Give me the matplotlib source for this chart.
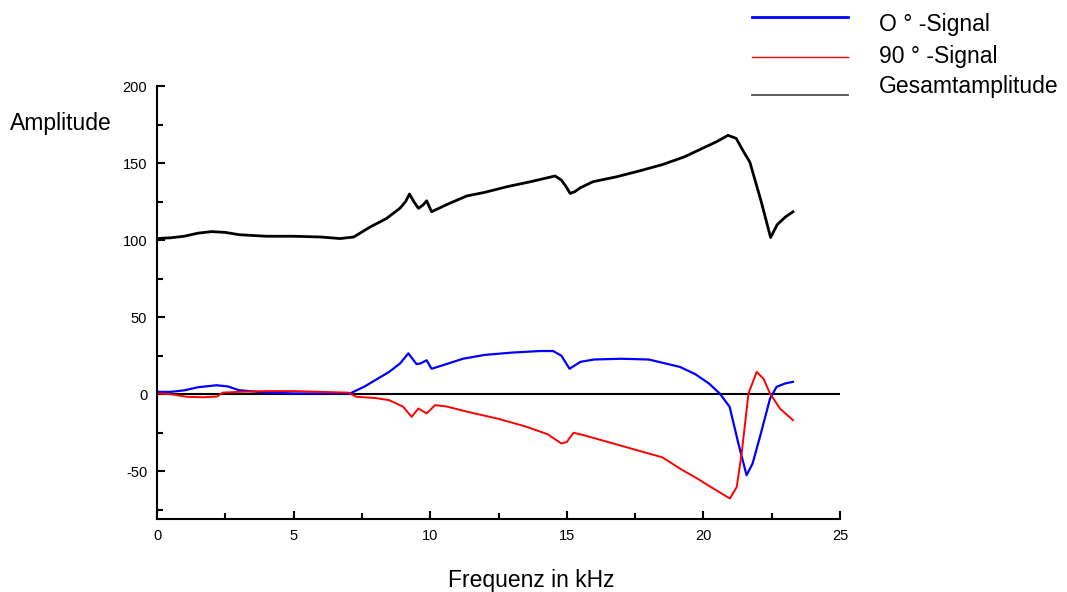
import matplotlib
matplotlib.use("Agg")
import matplotlib.pyplot as plt
from matplotlib.lines import Line2D
from matplotlib.ticker import MultipleLocator

plt.rcParams['font.family'] = ['Liberation Sans', 'DejaVu Sans']
plt.rcParams['axes.unicode_minus'] = False

# Gesamtamplitude (black)
f_total = [0, 0.5, 1.0, 1.5, 2.0, 2.5, 3.0, 4, 5, 6, 6.7, 7.2, 7.8, 8.4, 8.9, 9.1, 9.24, 9.4, 9.57,
           9.75, 9.87, 10.05, 10.6, 11.33, 12.0, 12.8, 13.7, 14.57, 14.8, 15.0, 15.12, 15.3, 15.5,
           15.96, 16.8, 17.68, 18.5, 19.3, 19.9, 20.5, 20.9, 21.2, 21.45, 21.7, 22.1, 22.46, 22.7,
           23.0, 23.28]
v_total = [101, 101.5, 102.5, 104.5, 105.5, 105, 103.5, 102.5, 102.5, 102, 101, 102, 108.5, 114,
           120.8, 125, 129.9, 125, 120.6, 123, 125.5, 118.4, 123, 128.6, 131, 134.6, 138, 141.6,
           139, 134, 130.3, 131.5, 134, 137.9, 141, 145, 149, 154, 159, 164, 168, 166, 158,
           150.6, 126, 101.7, 110, 115, 118.4]

# 0°-Signal (blue)
f_0 = [0, 0.5, 1.0, 1.5, 2.18, 2.6, 3.0, 4, 5, 6, 7.07, 7.6, 8.5, 8.9, 9.2, 9.5, 9.65, 9.87,
       10.05, 10.5, 11.2, 12, 13, 14, 14.5, 14.8, 15.1, 15.5, 16, 17, 18, 19.14, 19.7, 20.2,
       20.6, 20.96, 21.28, 21.58, 21.8, 22.07, 22.44, 22.68, 23.0, 23.28]
v_0 = [1.5, 1.5, 2.5, 4.5, 5.8, 5, 2.6, 1, 0.5, 0.5, 0.5, 5, 14.5, 20, 26.5, 19.5, 20, 22,
       16.5, 19, 23, 25.5, 27, 28, 28, 25, 16.5, 21, 22.5, 23, 22.5, 17.7, 13, 7,
       0.4, -8.2, -32, -52.6, -45, -27.7, -2.8, 4.8, 7, 8]

# 90°-Signal (red)
f_90 = [0, 0.5, 1.09, 1.7, 2.2, 2.4, 3, 4, 5, 6, 7.0, 7.3, 8.0, 8.5, 9.0, 9.32, 9.57, 9.87,
        10.18, 10.6, 11.5, 12.5, 13.5, 14.3, 14.8, 15.0, 15.25, 15.7, 16.5, 17.5, 18.5, 19.14,
        19.8, 20.36, 20.97, 21.22, 21.4, 21.65, 21.95, 22.2, 22.44, 22.8, 23.28]
v_90 = [0.5, 0, -1.7, -2, -1.5, 1, 1.5, 2, 2, 1.5, 1, -1.7, -2.5, -3.9, -8, -14.7, -9.3, -12.5,
        -7.1, -8, -12, -16, -21, -26, -32, -31, -25, -27, -31, -36, -41, -48.3,
        -55, -61.2, -67.7, -60.2, -38.5, 0.4, 14.5, 10, 0.4, -9.3, -16.9]

labels = ['O ° -Signal', '90 ° -Signal', 'Gesamtamplitude']
x_ticks = [0, 5, 10, 15, 20, 25]
y_ticks = [-50, 0, 50, 100, 150, 200]

W, H = 1067, 592
fig = plt.figure(figsize=(W / 100, H / 100), dpi=100)
ax = fig.add_axes([157 / W, (H - 519) / H, 683 / W, 433 / H])

ax.axhline(0, color='black', lw=1.5, zorder=1)
ax.plot(f_total, v_total, color='black', lw=2.0, zorder=3)
ax.plot(f_0, v_0, color='#0000ff', lw=1.6, zorder=2)
ax.plot(f_90, v_90, color='#ff0000', lw=1.4, zorder=2)

ax.set_xlim(0, 25)
ax.set_ylim(-81, 200)
ax.set_xticks(x_ticks)
ax.set_yticks(y_ticks)
ax.xaxis.set_minor_locator(MultipleLocator(2.5))
ax.yaxis.set_minor_locator(MultipleLocator(25))
for s in ['top', 'right']:
    ax.spines[s].set_visible(False)
for s in ['left', 'bottom']:
    ax.spines[s].set_linewidth(1.5)
ax.tick_params(which='major', direction='in', length=6, width=1.5, labelsize=10.5, pad=7)
ax.tick_params(which='minor', direction='in', length=4, width=1.5)

ax.set_ylabel('Amplitude', rotation=0, ha='left', va='center', fontsize=16.5)
ax.yaxis.set_label_coords((10 - 157) / 683, (519 - 124) / 433)
ax.set_xlabel('Frequenz in kHz', fontsize=16.5, va='center')
ax.xaxis.set_label_coords((531.5 - 157) / 683, (519 - 580) / 433)

# legend (manual, outside top right)
leg_colors = ['#0000ff', '#ff0000', '#505050']
leg_lw = [2.0, 1.0, 1.3]
leg_line_y = [17.3, 56.7, 95]
leg_text_y = [30.7, 62.7, 93.3]
for c, lw, ly, ty, lab in zip(leg_colors, leg_lw, leg_line_y, leg_text_y, labels):
    fig.add_artist(Line2D([752 / W, 848 / W], [1 - ly / H, 1 - ly / H], color=c, lw=lw,
                          transform=fig.transFigure))
    fig.text(879 / W, 1 - ty / H, lab, fontsize=16.5, ha='left', va='baseline')

fig.savefig('out.png', dpi=100)
